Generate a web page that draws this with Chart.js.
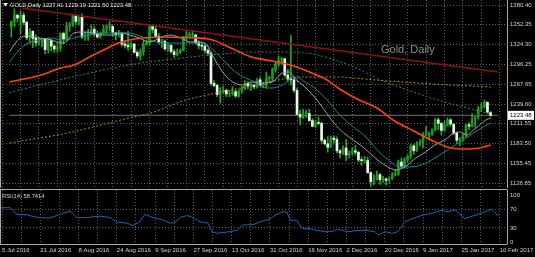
<!DOCTYPE html>
<html>
<head>
<meta charset="utf-8">
<script src="https://cdn.jsdelivr.net/npm/chart.js@4.4.0/dist/chart.umd.min.js"></script>
<style>
  html, body { margin: 0; padding: 0; background: #000; }
  #wrap { position: relative; width: 535px; height: 257px; background: #000; overflow: hidden; }
  canvas { position: absolute; left: 0; }
  #main { top: 0; }
  #rsi { top: 189px; }
</style>
</head>
<body>
<div id="wrap">
  <canvas id="main" width="535" height="188"></canvas>
  <canvas id="rsi" width="535" height="68"></canvas>
</div>
<script>
// GOLD daily, 5 Jul 2016 .. 10 Feb 2017 (157 bars, index 0 = 5 Jul)
const symbol = 'GOLD';
const period = 'Daily';
const dateLabels = ['5 Jul 2016', '21 Jul 2016', '8 Aug 2016', '24 Aug 2016', '9 Sep 2016', '27 Sep 2016',
  '13 Oct 2016', '31 Oct 2016', '16 Nov 2016', '2 Dec 2016', '20 Dec 2016', '9 Jan 2017', '25 Jan 2017', '10 Feb 2017'];
const priceTicks = [1380.40, 1352.35, 1324.30, 1296.25, 1267.65, 1239.60, 1211.55, 1183.50, 1155.45, 1126.85];
const rsiTicks = [100, 70, 30, 0];

const opens = [
  1350,1357,1366,1362,1366,1356,1334,1343,1333,1327,
  1328,1332,1317,1330,1322,1318,1320,1340,1332,1351,
  1352,1366,1357,1363,1335,1335,1340,1346,1339,1335,
  1340,1346,1350,1350,1341,1338,1339,1325,1323,1321,
  1325,1313,1308,1314,1325,1327,1350,1346,1336,1328,
  1329,1318,1323,1314,1310,1313,1316,1335,1337,1338,
  1338,1327,1323,1322,1316,1312,1269,1266,1253,1257,
  1259,1254,1255,1257,1251,1258,1262,1269,1265,1266,
  1264,1274,1266,1266,1276,1276,1289,1297,1302,1304,
  1281,1275,1274,1259,1225,1221,1226,1226,1216,1208,
  1213,1212,1188,1183,1178,1191,1189,1173,1170,1177,
  1167,1170,1173,1171,1160,1159,1159,1142,1129,1134,
  1139,1132,1133,1131,1133,1139,1140,1157,1151,1161,
  1165,1180,1173,1183,1185,1196,1196,1196,1203,1217,
  1212,1202,1209,1217,1211,1198,1188,1190,1195,1210,
  1208,1218,1220,1234,1236,1242,1227.41];
const highs = [
  1358,1375,1368,1372,1370,1358,1347,1344,1338,1334,
  1333,1333,1333,1332,1324,1327,1341,1342,1356,1356,
  1367,1367,1366,1368,1342,1346,1352,1350,1344,1342,
  1352,1352,1357,1351,1342,1345,1341,1328,1343,1328,
  1326,1316,1318,1330,1330,1352,1352,1351,1340,1332,
  1331,1326,1325,1317,1318,1318,1336,1343,1342,1344,
  1339,1330,1327,1325,1318,1314,1273,1268,1263,1265,
  1261,1259,1264,1260,1260,1265,1273,1272,1269,1268,
  1276,1278,1270,1285,1279,1291,1299,1308,1306,1305,
  1289,1337,1276,1262,1231,1232,1231,1232,1219,1217,
  1221,1214,1190,1193,1194,1194,1193,1175,1180,1189,
  1173,1178,1181,1172,1164,1165,1164,1143,1139,1144,
  1141,1137,1134,1136,1142,1146,1160,1163,1163,1167,
  1182,1182,1186,1189,1199,1208,1200,1204,1219,1220,
  1213,1215,1220,1219,1212,1200,1192,1198,1211,1213,
  1226,1222,1236,1241,1245,1243,1229.19];
const lows = [
  1335,1350,1356,1339,1352,1331,1326,1320,1322,1324,
  1321,1311,1312,1315,1313,1313,1315,1325,1330,1343,
  1350,1352,1352,1333,1330,1330,1338,1336,1333,1333,
  1339,1340,1344,1336,1331,1335,1322,1319,1316,1318,
  1312,1305,1302,1309,1323,1324,1341,1334,1325,1320,
  1316,1315,1312,1306,1308,1311,1315,1330,1334,1335,
  1324,1318,1316,1312,1309,1266,1264,1250,1241,1254,
  1250,1250,1252,1249,1249,1255,1260,1261,1259,1261,
  1262,1265,1263,1262,1270,1272,1285,1294,1296,1278,
  1271,1267,1256,1223,1210,1219,1220,1215,1207,1206,
  1210,1183,1181,1171,1178,1184,1170,1163,1168,1159,
  1163,1167,1167,1157,1152,1156,1141,1123,1125,1131,
  1125,1128,1124,1128,1132,1137,1138,1148,1148,1157,
  1162,1168,1172,1180,1177,1194,1188,1195,1201,1203,
  1195,1201,1208,1208,1196,1184,1180,1187,1192,1203,
  1207,1207,1218,1230,1234,1226,1221.50];
const closes = [
  1357,1366,1362,1366,1356,1334,1343,1333,1327,1328,
  1332,1317,1330,1322,1318,1320,1340,1332,1351,1352,
  1366,1357,1363,1335,1335,1340,1346,1339,1335,1340,
  1346,1350,1350,1341,1338,1339,1325,1323,1321,1325,
  1313,1308,1314,1325,1327,1350,1346,1336,1328,1329,
  1318,1323,1314,1310,1313,1316,1335,1337,1338,1338,
  1327,1323,1322,1316,1312,1269,1266,1253,1257,1259,
  1254,1255,1257,1251,1258,1262,1269,1265,1266,1264,
  1274,1266,1266,1276,1276,1289,1297,1302,1304,1281,
  1275,1274,1259,1225,1221,1226,1226,1216,1208,1213,
  1212,1188,1183,1178,1191,1189,1173,1170,1177,1167,
  1170,1173,1171,1160,1159,1159,1142,1129,1134,1139,
  1132,1133,1131,1133,1139,1140,1157,1151,1161,1165,
  1180,1173,1183,1185,1196,1196,1196,1203,1217,1212,
  1202,1209,1217,1211,1198,1188,1190,1195,1210,1208,
  1218,1220,1234,1236,1242,1228,1223.48];

// indicator lines at bar positions
const maFastIdx = [-0.6,1.6,3.4,5.6,8.8,11.9,15.0,17.2,20.4,23.5,26.6,29.8,32.9,36.1,38.6,41.7,44.8,47.0,48.9,52.0,
  55.2,58.3,61.4,63.6,65.8,69.0,72.1,75.2,78.4,81.8,84.9,88.1,90.3,92.5,95.6,98.7,101.9,105.0,108.2,111.3,
  114.4,118.5,120.1,123.2,125.4,128.5,131.7,134.8,137.9,141.1,144.2,146.1,148.3,150.5,152.4,154.5,156.1];
const maFast = [1313.6,1327.9,1335.0,1336.4,1333.6,1332.1,1327.9,1326.4,1340.7,1342.1,1340.7,1337.8,1337.8,1340.7,1337.8,1333.6,1327.9,1330.7,1335.0,1337.8,
  1333.6,1327.9,1327.9,1323.6,1306.5,1283.7,1270.9,1266.7,1270.9,1269.5,1270.9,1283.7,1285.2,1275.2,1263.8,1249.6,1231.1,1212.6,1198.4,1188.4,
  1178.5,1162.8,1157.1,1148.5,1145.7,1151.4,1162.8,1171.3,1181.3,1188.4,1198.4,1199.8,1195.5,1202.7,1209.8,1216.9,1219.7];
const maMidIdx = [-0.6,2.5,5.6,8.8,12.9,17.2,20.4,24.5,29.8,33.9,38.6,42.6,47.0,51.1,55.2,59.6,63.6,66.8,69.9,73.0,
  76.2,79.3,81.8,84.9,88.1,91.2,92.8,95.6,98.7,102.8,106.9,111.3,115.4,117.9,120.4,123.2,126.3,129.5,133.5,137.9,
  142.0,146.1,150.5,153.6,156.1];
const maMid = [1299.4,1316.5,1326.4,1330.7,1333.6,1330.7,1333.6,1337.8,1340.7,1340.7,1340.7,1335.0,1327.9,1326.4,1326.4,1326.4,1323.6,1312.2,1298.0,1285.2,
  1276.6,1270.9,1263.8,1262.4,1266.7,1276.6,1278.0,1270.9,1262.4,1245.3,1224.0,1206.9,1192.8,1179.9,1168.5,1158.5,1149.9,1149.9,1152.8,1162.8,
  1174.2,1185.6,1198.4,1206.9,1212.6];
const maSlowIdx = [-0.6,9.7,16.0,20.4,25.4,30.7,34.8,40.1,49.5,55.8,64.3,71.5,77.7,84.0,90.3,92.5,97.5,102.8,106.9,113.2,
  118.5,124.8,131.0,137.3,142.0,146.7,151.4,156.1];
const maSlow = [1270.9,1280.9,1290.9,1295.1,1306.5,1317.9,1326.4,1332.1,1334.9,1334.2,1332.1,1319.3,1307.2,1301.5,1295.8,1293.0,1284.4,1273.8,1261.0,1245.3,
  1235.4,1215.4,1201.2,1186.9,1178.4,1175.6,1176.3,1181.3];
const maLongIdx = [-0.6,19.7,40.1,55.8,68.3,79.3,90.3,98.1,104.4,112.2,120.1,131.0,138.9,148.3,156.1];
const maLong = [1256.0,1278.0,1296.5,1305.1,1310.8,1313.6,1313.6,1310.8,1303.7,1290.9,1273.8,1256.7,1245.3,1233.9,1225.4];
const maBaseIdx = [-0.6,18.2,37.0,46.4,55.8,71.5,84.0,93.4,106.0,118.5,137.3,156.1];
const maBase = [1184.1,1198.3,1218.3,1228.2,1243.9,1259.5,1270.9,1278.0,1278.0,1273.8,1268.1,1263.8];
const trendIdx = [3.5, 158.3];
const trendVal = [1376.3, 1285.2];

const rsiIdx = [-0.6,2.5,4.7,7.8,9.7,11.9,15.0,18.2,21.3,23.5,26.6,30.7,33.9,36.1,39.2,41.1,43.3,44.8,47.3,50.5,
  52.7,54.2,56.4,58.3,59.9,62.1,64.6,65.8,67.4,71.5,73.7,75.5,78.7,80.9,84.0,85.6,87.8,89.3,90.3,92.5,
  94.0,95.9,98.1,101.3,103.4,105.3,108.5,110.7,113.8,116.9,117.9,120.1,122.3,124.1,126.3,128.8,131.7,134.8,137.9,139.5,
  142.0,145.1,148.3,151.4,153.6,155.2,156.1];
const rsiVal = [73,73,59,58,54,52,51,59,66,52,52,55,52,42,40,35,44,59,52,47,
  40,42,54,56,52,43,40,22,18.5,22,25,36,37,43,49,57,64,64,47,45,
  29,29,25.5,22,22,27,22,24,25,22,15,22,18.5,22,43,50,57,61,68,64,
  68,50,57,64,70,57,58.7414];

const FONT = "'Liberation Sans', Arial, sans-serif";
const X_MIN = -0.63, X_MAX = 158.3;
const GRID = '#5c5c5c';
const TEXT = '#d2d2d2';
const FRAME = '#a8a8a8';
const last = opens.length - 1;
const bid = closes[last];

function pts(xs, ys) { return xs.map((x, i) => ({ x: x, y: ys[i] })); }
const gridSteps = [];
for (let i = 0; i <= 156; i += 6) gridSteps.push(i);

function line(data, color, width, dash) {
  return { type: 'line', data: data, borderColor: color, borderWidth: width, borderDash: dash || [],
    pointRadius: 0, cubicInterpolationMode: 'monotone', order: 1 };
}

const mainDecor = {
  id: 'mainDecor',
  beforeDatasetsDraw(chart) {
    const ctx = chart.ctx;
    ctx.save();
    ctx.fillStyle = '#8c8c8c';
    ctx.font = "11px 'Liberation Sans', Arial, sans-serif";
    ctx.fillText('Gold, Daily', 381, 53);
    ctx.restore();
  },
  afterDraw(chart) {
    const ctx = chart.ctx, a = chart.chartArea;
    ctx.save();
    ctx.strokeStyle = FRAME;
    ctx.lineWidth = 1;
    ctx.beginPath();
    ctx.moveTo(a.right + 0.5, 0); ctx.lineTo(a.right + 0.5, a.bottom);
    ctx.moveTo(0.5, 0); ctx.lineTo(0.5, a.bottom);
    ctx.stroke();
    // header
    ctx.fillStyle = '#e8e8e8';
    ctx.beginPath(); ctx.moveTo(3, 3); ctx.lineTo(8, 3); ctx.lineTo(5.5, 6.5); ctx.closePath(); ctx.fill();
    ctx.font = '5.8px ' + FONT;
    ctx.textBaseline = 'middle';
    const ohlc = [opens[last], highs[last], lows[last], closes[last]].map(v => v.toFixed(2)).join(' ');
    ctx.fillText(symbol + ',' + period + ' ' + ohlc, 10, 5.5);
    // bid price box
    const y = chart.scales.y.getPixelForValue(bid);
    ctx.fillStyle = '#ffffff';
    ctx.fillRect(a.right + 1, y - 4.5, 26, 9);
    ctx.fillStyle = '#000000';
    ctx.font = '6px ' + FONT;
    ctx.fillText(bid.toFixed(2), a.right + 3, y);
    ctx.restore();
  }
};

const rsiDecor = {
  id: 'rsiDecor',
  afterDraw(chart) {
    const ctx = chart.ctx, a = chart.chartArea;
    ctx.save();
    ctx.strokeStyle = FRAME;
    ctx.lineWidth = 1;
    ctx.beginPath();
    ctx.moveTo(0, a.top - 0.5); ctx.lineTo(a.right + 0.5, a.top - 0.5);
    ctx.moveTo(a.right + 0.5, a.top); ctx.lineTo(a.right + 0.5, a.bottom);
    ctx.moveTo(0.5, a.top); ctx.lineTo(0.5, a.bottom);
    ctx.moveTo(0, a.bottom + 0.5); ctx.lineTo(a.right + 0.5, a.bottom + 0.5);
    ctx.stroke();
    ctx.fillStyle = TEXT;
    ctx.font = '5.8px ' + FONT;
    ctx.textBaseline = 'middle';
    ctx.fillText('RSI(14) ' + rsiVal[rsiVal.length - 1].toFixed(4), 2, a.top + 6);
    ctx.restore();
  }
};

const xBase = {
  type: 'linear', min: X_MIN, max: X_MAX, position: 'bottom',
  afterBuildTicks: s => { s.ticks = gridSteps.map(v => ({ value: v })); },
  grid: { color: GRID, drawTicks: false },
  border: { display: false, dash: [1, 2] }
};

Chart.defaults.animation = false;

new Chart(document.getElementById('main'), {
  type: 'bar',
  data: {
    datasets: [
      line(pts(trendIdx, trendVal), '#8e1212', 1.5),
      line(pts(maSlowIdx, maSlow), '#ff4500', 1.6),
      line(pts(maFastIdx, maFast), '#9aa4a4', 1),
      line(pts(maMidIdx, maMid), '#138a8a', 1),
      line(pts(maLongIdx, maLong), '#1f8f5f', 1, [2, 2]),
      line(pts(maBaseIdx, maBase), '#a89018', 1, [2, 2]),
      {
        type: 'bar', order: 3, grouped: false, barThickness: 2, minBarLength: 1,
        data: opens.map((o, i) => ({ x: i, y: [o, closes[i]] })),
        backgroundColor: opens.map((o, i) => closes[i] >= o ? '#1f961f' : '#e8fbe8')
      },
      {
        type: 'bar', order: 4, grouped: false, barThickness: 1,
        data: lows.map((l, i) => ({ x: i, y: [l, highs[i]] })),
        backgroundColor: '#25a825'
      },
      Object.assign(line(pts([X_MIN, X_MAX], [bid, bid]), '#66717a', 1), { order: 5 })
    ]
  },
  options: {
    responsive: false,
    devicePixelRatio: 1,
    layout: { padding: 0 },
    plugins: { legend: { display: false }, tooltip: { enabled: false } },
    scales: {
      x: Object.assign({}, xBase, {
        ticks: { display: false },
        afterFit: s => { s.height = 0; s.paddingLeft = 0; s.paddingRight = 0; }
      }),
      y: {
        type: 'linear', position: 'right', min: 1120.03, max: 1387.65,
        afterBuildTicks: s => { s.ticks = priceTicks.map(v => ({ value: v })); },
        ticks: { color: TEXT, font: { family: FONT, size: 6 }, padding: 3, callback: v => v.toFixed(2) },
        grid: { color: GRID, drawTicks: false },
        border: { display: false, dash: [1, 2] },
        afterFit: s => { s.width = 28; s.paddingTop = 0; s.paddingBottom = 0; }
      }
    }
  },
  plugins: [mainDecor]
});

new Chart(document.getElementById('rsi'), {
  type: 'line',
  data: {
    datasets: [{
      data: pts(rsiIdx, rsiVal), borderColor: '#2064b0', borderWidth: 1, pointRadius: 0, tension: 0
    }]
  },
  options: {
    responsive: false,
    devicePixelRatio: 1,
    layout: { padding: { top: 1 } },
    plugins: { legend: { display: false }, tooltip: { enabled: false } },
    scales: {
      x: Object.assign({}, xBase, {
        ticks: {
          color: TEXT, font: { family: FONT, size: 6 }, padding: 3, align: 'start',
          autoSkip: false, maxRotation: 0, minRotation: 0,
          callback: v => (v % 12 === 0 ? dateLabels[v / 12] : '')
        },
        afterFit: s => { s.height = 13; s.paddingLeft = 0; s.paddingRight = 0; }
      }),
      y: {
        type: 'linear', position: 'right', min: -4.26, max: 110.64,
        afterBuildTicks: s => { s.ticks = rsiTicks.map(v => ({ value: v })); },
        ticks: { color: TEXT, font: { family: FONT, size: 6 }, padding: 3 },
        grid: { color: c => (c.tick && (c.tick.value === 70 || c.tick.value === 30)) ? GRID : 'rgba(0,0,0,0)', drawTicks: false },
        border: { display: false, dash: [1, 2] },
        afterFit: s => { s.width = 28; s.paddingTop = 0; s.paddingBottom = 0; }
      }
    }
  },
  plugins: [rsiDecor]
});
</script>
</body>
</html>
